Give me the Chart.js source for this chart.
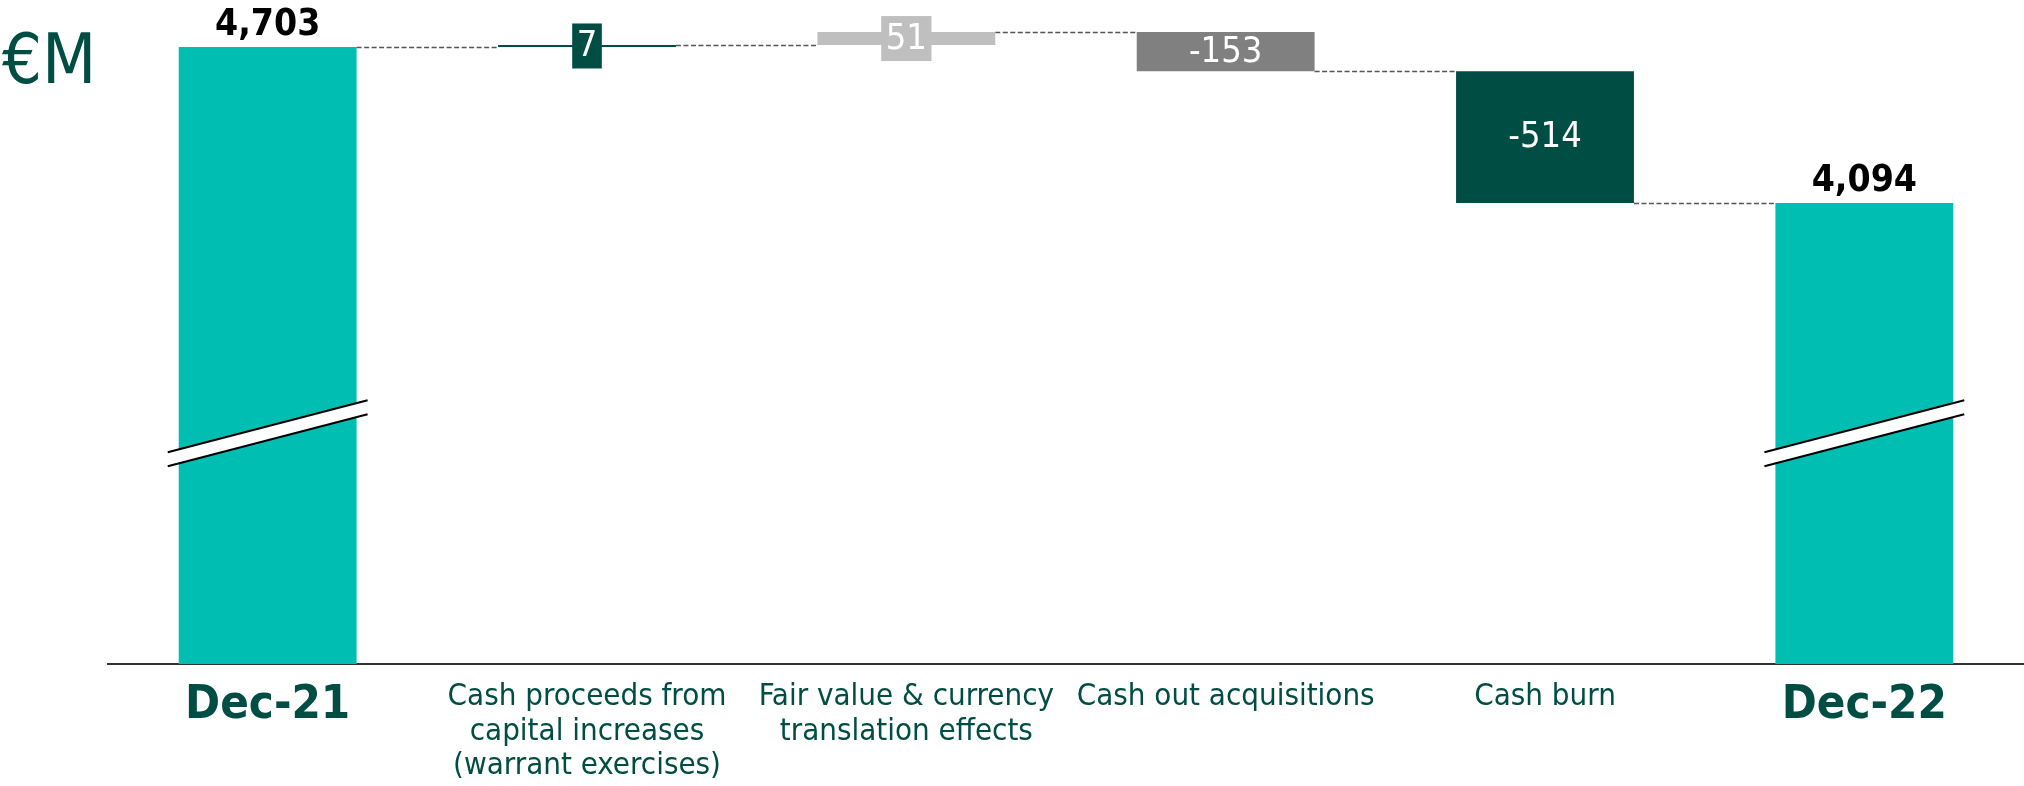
<!DOCTYPE html>
<html>
<head>
<meta charset="utf-8">
<script src="https://cdn.jsdelivr.net/npm/chart.js@4.4.1/dist/chart.umd.min.js"></script>
<style>
  body { margin: 0; background: #fff; }
  #wrap { position: relative; width: 2024px; height: 786px; }
  #unit {
    position: absolute; left: 2px; top: 24px;
    font: 70px/70px 'DejaVu Sans Condensed', 'DejaVu Sans', sans-serif;
    font-stretch: condensed;
    color: #004D44;
  }
</style>
</head>
<body>
<div id="wrap">
  <canvas id="bridgeChart" width="2024" height="786"></canvas>
  <div id="unit">€M</div>
</div>
<script>
const CATEGORIES = [
  ["Dec-21"],
  ["Cash proceeds from", "capital increases", "(warrant exercises)"],
  ["Fair value & currency", "translation effects"],
  ["Cash out acquisitions"],
  ["Cash burn"],
  ["Dec-22"]
];
const VALUES = [4703, 7, 51, -153, -514, 4094];
const IS_TOTAL = [true, false, false, false, false, true];
const BAR_COLORS = ["#00BFB2", "#004D44", "#BFBFBF", "#808080", "#004D44", "#00BFB2"];

// broken y axis: totals start at AXIS_MIN, the break is drawn at BREAK_AT
const AXIS_MIN = 2294;
const AXIS_MAX = 4886;
const BREAK_AT = 3195;

const FONT = "'DejaVu Sans Condensed', 'DejaVu Sans', sans-serif";
const TEXT_GREEN = "#004D44";

// floating ranges + running level after each bar
const ranges = [];
const levels = [];
let running = 0;
VALUES.forEach((v, i) => {
  if (IS_TOTAL[i]) {
    ranges.push([AXIS_MIN, v]);
    running = v;
  } else {
    ranges.push([running, running + v]);
    running += v;
  }
  levels.push(running);
});

const bridgeDecor = {
  id: "bridgeDecor",
  beforeDatasetsDraw(chart) {
    const ctx = chart.ctx;
    const bars = chart.getDatasetMeta(0).data;
    const yScale = chart.scales.y;
    ctx.save();
    ctx.strokeStyle = "#555";
    ctx.lineWidth = 1.5;
    ctx.setLineDash([5, 2.5]);
    for (let i = 0; i < bars.length - 1; i++) {
      const y = Math.round(yScale.getPixelForValue(levels[i])) + 0.5;
      const x1 = bars[i].x + bars[i].width / 2;
      const x2 = bars[i + 1].x - bars[i + 1].width / 2;
      ctx.beginPath();
      ctx.moveTo(x1, y);
      ctx.lineTo(x2, y);
      ctx.stroke();
    }
    ctx.restore();
  },
  afterDatasetsDraw(chart) {
    const ctx = chart.ctx;
    const bars = chart.getDatasetMeta(0).data;
    const yScale = chart.scales.y;
    ctx.save();

    // axis break marks on the total bars
    const cy = yScale.getPixelForValue(BREAK_AT);
    bars.forEach((bar, i) => {
      if (!IS_TOTAL[i]) return;
      const xl = bar.x - bar.width / 2 - 11;
      const xr = bar.x + bar.width / 2 + 11;
      const rise = 26, gap = 7;
      ctx.fillStyle = "#fff";
      ctx.beginPath();
      ctx.moveTo(xl, cy - gap + rise);
      ctx.lineTo(xr, cy - gap - rise);
      ctx.lineTo(xr, cy + gap - rise);
      ctx.lineTo(xl, cy + gap + rise);
      ctx.closePath();
      ctx.fill();
      ctx.strokeStyle = "#000";
      ctx.lineWidth = 2;
      ctx.beginPath();
      ctx.moveTo(xl, cy - gap + rise);
      ctx.lineTo(xr, cy - gap - rise);
      ctx.moveTo(xl, cy + gap + rise);
      ctx.lineTo(xr, cy + gap - rise);
      ctx.stroke();
    });

    // value labels
    ctx.textAlign = "center";
    bars.forEach((bar, i) => {
      const top = Math.min(bar.y, bar.base);
      const bottom = Math.max(bar.y, bar.base);
      const text = VALUES[i].toLocaleString("en-US");
      if (IS_TOTAL[i]) {
        ctx.font = "bold 37px " + FONT;
        ctx.fillStyle = "#000";
        ctx.textBaseline = "alphabetic";
        ctx.fillText(text, bar.x, top - 12);
      } else {
        ctx.font = "36px " + FONT;
        const tw = ctx.measureText(text).width;
        const mid = (top + bottom) / 2;
        // thin bars get a coloured tag behind the number
        if (bottom - top < 30) {
          ctx.fillStyle = BAR_COLORS[i];
          ctx.fillRect(bar.x - tw / 2 - 4.5, mid - 22.5, tw + 9, 45);
        }
        ctx.fillStyle = "#fff";
        ctx.textBaseline = "middle";
        ctx.fillText(text, bar.x, mid + 1);
      }
    });
    ctx.restore();
  }
};

new Chart(document.getElementById("bridgeChart"), {
  type: "bar",
  data: {
    labels: CATEGORIES,
    datasets: [{
      data: ranges,
      backgroundColor: BAR_COLORS,
      borderWidth: 0,
      barPercentage: 1,
      categoryPercentage: 0.557
    }]
  },
  options: {
    responsive: false,
    devicePixelRatio: 1,
    animation: false,
    layout: { padding: { left: 108, top: 0, right: 0, bottom: 0 } },
    plugins: {
      legend: { display: false },
      tooltip: { enabled: false }
    },
    scales: {
      x: {
        grid: { display: false, drawTicks: false },
        border: { display: true, color: "#333", width: 2 },
        ticks: {
          color: TEXT_GREEN,
          padding: 16,
          maxRotation: 0,
          autoSkip: false,
          font: (c) => IS_TOTAL[c.index]
            ? { family: FONT, size: 47, weight: "bold", lineHeight: 1.09 }
            : { family: FONT, size: 31, lineHeight: 1.113 }
        },
        afterFit: (scale) => { scale.height = 122; }
      },
      y: {
        display: false,
        min: AXIS_MIN,
        max: AXIS_MAX
      }
    }
  },
  plugins: [bridgeDecor]
});
</script>
</body>
</html>
